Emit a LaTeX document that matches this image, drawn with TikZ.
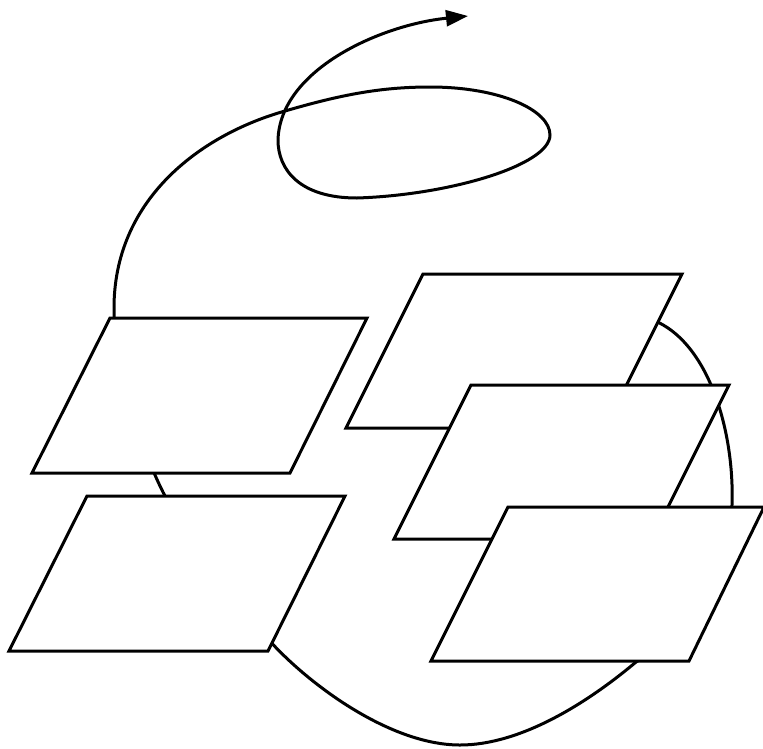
\documentclass[tikz,border=0pt]{standalone}
\usetikzlibrary{arrows.meta}
\begin{document}
\begin{tikzpicture}[x=1pt,y=-1pt,
  ln/.style={line width=3pt,black},
  plate/.style={ln,fill=white,line join=miter},
  flow/.style={ln,-{Triangle[length=22pt,width=16pt]}}]
\useasboundingbox (0,0) rectangle (763,748);
% the curve, drawn behind the plates
\coordinate (s) at (625,315);
\coordinate (r1) at (732,505);
\coordinate (r2) at (636,662);
\coordinate (bt) at (460,745);
\coordinate (b1) at (268,639);
\coordinate (b2) at (165,496);
\coordinate (a1) at (114,310);
\coordinate (x1) at (285,111);
\coordinate (lt) at (430,87);
\coordinate (lr) at (550,135);
\coordinate (lb) at (357,198);
\coordinate (ll) at (278,140);
\coordinate (tip) at (468,16);
\draw[flow] (s) .. controls (700,314) and (735,420) .. (r1)
  .. controls (729,585) and (690,630) .. (r2)
  .. controls (586,704) and (520,745) .. (bt)
  .. controls (390,745) and (308,684) .. (b1)
  .. controls (230,597) and (185,535) .. (b2)
  .. controls (145,458) and (113,370) .. (a1)
  .. controls (113,200) and (200,135) .. (x1)
  .. controls (340,95) and (380,87) .. (lt)
  .. controls (500,87) and (550,110) .. (lr)
  .. controls (550,165) and (450,195) .. (lb)
  .. controls (300,198) and (278,170) .. (ll)
  .. controls (280,70) and (380,25) .. (tip);
% plates
\draw[plate] (110,318) coordinate (A) -- (367,318) -- (290,473) -- (32,473) -- cycle;
\draw[plate] (87,496) coordinate (B) -- (345,496) -- (268,651) -- (9,651) -- cycle;
\draw[plate] (423,274) coordinate (C) -- (682,274) -- (605,428) -- (346,428) -- cycle;
\draw[plate] (471,385) coordinate (D) -- (729,385) -- (652,539) -- (394,539) -- cycle;
\draw[plate] (508,507) coordinate (E) -- (764,507) -- (689,661) -- (431,661) -- cycle;
\end{tikzpicture}
\end{document}
